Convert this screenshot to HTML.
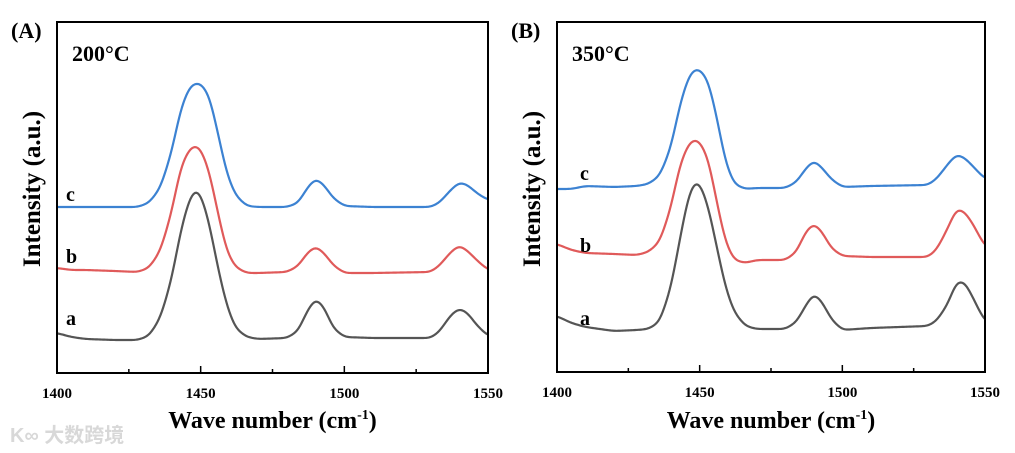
<!DOCTYPE html>
<html><head><meta charset="utf-8"><style>
body{margin:0;background:#fff;width:1015px;height:453px;overflow:hidden}
svg{display:block;font-family:"Liberation Serif",serif;font-weight:bold}
</style></head><body>
<svg id="chart" width="1015" height="453"></svg>
<script>
const xTicks=[1400,1450,1500,1550];
const xMinor=[1425,1475,1525];
const seriesNames=["a","b","c"];
const seriesColors=["#555555","#e05a5a","#3c82d2"];
// Panel A: [wavenumber, intensity] points
const aX=[1400,1405,1410,1420,1428,1432,1436,1440,1443,1446,1448,1450,1453,1456,1459,1462,1466,1470,1480,1484,1487,1490,1493,1496,1500,1510,1530,1533,1537,1540,1543,1546,1550];
const aA=[40,36,34,33,33,37,55,95,142,174,184,180,150,105,68,45,36,34,35,42,62,75,66,45,36,35,35,41,58,65,60,48,37];
const aB=[105,103,103,102,101,105,122,162,206,224,228,225,202,160,122,106,100,100,101,107,120,127,120,108,100,100,101,107,121,128,122,113,103];
const aC=[166,166,166,166,166,170,185,222,264,286,290,290,278,240,200,178,167,166,166,170,185,195,188,175,167,166,166,170,183,191,188,180,173];
// Panel B
const bA=[56,49,45,41,42,43,50,85,132,176,190,190,166,125,85,60,46,43,43,50,66,79,70,53,42,44,46,51,68,91,90,73,50];
const bB=[128,122,119,118,117,120,130,165,207,228,233,231,214,170,130,112,109,112,112,120,140,149,140,124,116,115,115,122,144,164,160,147,125];
const bC=[183,183,186,185,186,188,196,225,267,295,303,303,292,255,210,188,183,184,184,190,203,212,204,193,185,186,187,193,208,218,214,205,193];
const aValues=[aA,aB,aC], bValues=[bA,bB,bC];
const NS="http://www.w3.org/2000/svg";
const svg=document.getElementById('chart');
function mk(tag,attrs,parent){const e=document.createElementNS(NS,tag);for(const k in attrs)e.setAttribute(k,attrs[k]);(parent||svg).appendChild(e);return e;}
function interp(xs,ys,x){for(let i=0;i<xs.length-1;i++){if(x<=xs[i+1]){const t=(x-xs[i])/(xs[i+1]-xs[i]);return ys[i]+t*(ys[i+1]-ys[i]);}}return ys[ys.length-1];}
function smoothCurve(ys){
  const step=0.5,raw=[];
  for(let x=1400;x<=1550+1e-9;x+=step)raw.push([x,interp(aX,ys,x)]);
  const sig=1.3/step,R=Math.ceil(sig*3);
  return raw.map((p,i)=>{let s=0,w=0;for(let k=-R;k<=R;k++){const j=Math.min(raw.length-1,Math.max(0,i+k));const ww=Math.exp(-k*k/(2*sig*sig));s+=raw[j][1]*ww;w+=ww;}return [p[0],s/w];});
}
function panel(x0,x1,y0,y1,vals,letter,temp,labelX,labelYs,idx){
  const g=mk('g',{});
  
  
  const xs=v=>x0+(v-1400)/150*(x1-x0);
  const ys=v=>y1-v;
  for(let s=0;s<3;s++){
    const pts=smoothCurve(vals[s]).map(p=>xs(p[0]).toFixed(2)+','+ys(p[1]).toFixed(2));
    const p=mk('path',{d:'M'+pts.join(' L'),fill:'none',stroke:seriesColors[s],'stroke-width':2.2,'stroke-linejoin':'round'},g);
    
    
    const t=mk('text',{x:labelX,y:labelYs[s],'font-size':20,fill:'#000'},g);t.textContent=seriesNames[s];
    
    
  }
  const r=mk('rect',{x:x0,y:y0,width:x1-x0,height:y1-y0,fill:'none',stroke:'#000','stroke-width':2},g);
  
  
  xTicks.forEach(v=>{mk('line',{x1:xs(v),x2:xs(v),y1:y1,y2:y1-7,stroke:'#000','stroke-width':1.5},g);
    const t=mk('text',{x:xs(v),y:y1+25,'font-size':15,'text-anchor':'middle'},g);t.textContent=v;
    
    });
  xMinor.forEach(v=>mk('line',{x1:xs(v),x2:xs(v),y1:y1,y2:y1-4,stroke:'#000','stroke-width':1.5},g));
  const xt=mk('text',{x:(x0+x1)/2,y:428,'font-size':24,'text-anchor':'middle'},g);
  xt.innerHTML='Wave number (cm<tspan dy="-9" font-size="14">-1</tspan><tspan dy="9">)</tspan>';
  
  
  const yt=mk('text',{x:0,y:0,'font-size':25,'text-anchor':'middle',transform:'translate('+(x0-17)+',189) rotate(-90)'},g);
  yt.textContent='Intensity (a.u.)';
  
  
  const pl=mk('text',{x:x0-46,y:38,'font-size':22},g);pl.textContent=letter;
  
  
  const tt=mk('text',{x:x0+15,y:61,'font-size':22},g);tt.textContent=temp;
  
  
}
panel(57,488,22,373,aValues,'(A)','200°C',66,[325,263,201],'a');
panel(557,985,22,372,bValues,'(B)','350°C',580,[325,252,180],'b');
const wm=mk('text',{x:10,y:442,'font-size':20,fill:'#d8d8d8','font-family':'"Liberation Sans","Noto Sans CJK SC",sans-serif'});
wm.textContent='K∞ 大数跨境';


</script>
</body></html>
